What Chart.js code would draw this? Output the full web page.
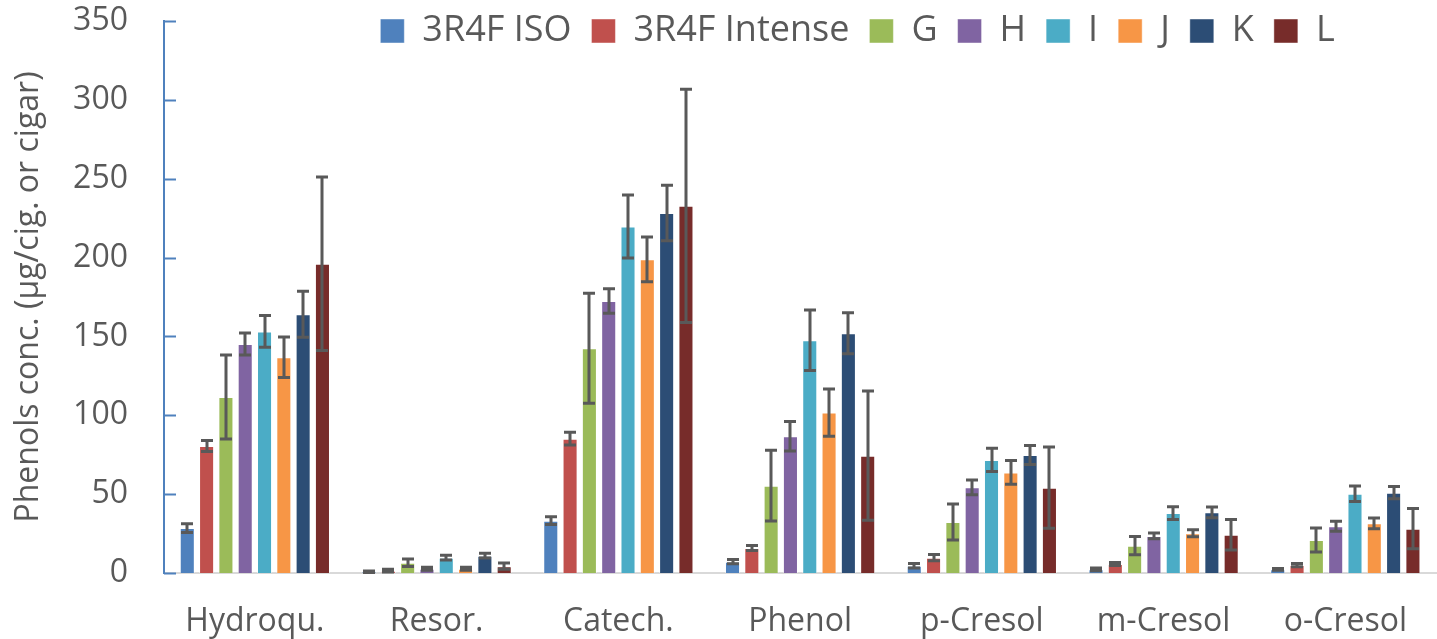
<!DOCTYPE html>
<html>
<head>
<meta charset="utf-8">
<script src="https://cdn.jsdelivr.net/npm/chart.js@4.4.1/dist/chart.umd.min.js"></script>
<style>
  html, body { margin: 0; padding: 0; background: #fff; }
  #wrap { width: 1437px; height: 639px; }
</style>
</head>
<body>
<div id="wrap"><canvas id="myChart" width="1437" height="639"></canvas></div>
<script>
// categories and series
const categories = ["Hydroqu.", "Resor.", "Catech.", "Phenol", "p-Cresol", "m-Cresol", "o-Cresol"];
const seriesNames = ["3R4F ISO", "3R4F Intense", "G", "H", "I", "J", "K", "L"];
const seriesColors = ["#4F81BD", "#C0504D", "#9BBB59", "#8064A2", "#4BACC6", "#F79646", "#2C4D75", "#772C2A"];

// values (µg/cig. or cigar) and error (±)
const iso        = [28.5, 0.8, 33.2, 7.2, 4.6, 2.3, 2.3];
const isoErr     = [2.8, 0.5, 2.4, 1.3, 1.5, 0.8, 0.5];
const intense    = [80.5, 1.5, 85.2, 15.9, 9.7, 5.7, 5.0];
const intenseErr = [3.5, 0.8, 4.0, 1.6, 2.0, 1.0, 1.0];
const g          = [111.6, 6.5, 142.5, 55.4, 32.3, 17.3, 20.9];
const gErr       = [26.7, 2.3, 34.8, 22.5, 11.4, 5.8, 7.6];
const h          = [145.2, 2.7, 172.5, 86.7, 54.3, 23.5, 29.6];
const hErr       = [7.0, 1.0, 7.8, 9.3, 4.7, 1.8, 3.2];
const iVals      = [153.2, 9.7, 219.7, 147.6, 71.7, 38.0, 50.3];
const iErr       = [10.0, 1.5, 20.0, 19.2, 7.4, 4.0, 4.9];
const j          = [136.8, 2.7, 198.9, 101.7, 63.8, 25.2, 31.5];
const jErr       = [12.9, 1.0, 14.2, 15.0, 7.5, 2.2, 3.4];
const k          = [164.0, 11.0, 228.2, 152.0, 74.8, 38.5, 50.9];
const kErr       = [14.6, 1.5, 17.6, 13.0, 6.0, 3.4, 3.9];
const l          = [196.1, 4.3, 232.8, 74.4, 54.1, 24.3, 28.1];
const lErr       = [55.0, 2.0, 74.0, 41.0, 25.8, 9.7, 12.8];

const allValues = [iso, intense, g, h, iVals, j, k, l];
const allErrors = [isoErr, intenseErr, gErr, hErr, iErr, jErr, kErr, lErr];

const yTicks = [0, 50, 100, 150, 200, 250, 300, 350];

const textColor = "#595959";
const fontFamily = "'Open Sans', sans-serif";

// error bars on top of every bar
const errorBars = {
  id: "errorBars",
  afterDatasetsDraw(chart) {
    const ctx = chart.ctx;
    const yScale = chart.scales.y;
    ctx.save();
    ctx.strokeStyle = "#595959";
    ctx.lineWidth = 3;
    chart.data.datasets.forEach((ds, di) => {
      const meta = chart.getDatasetMeta(di);
      meta.data.forEach((bar, idx) => {
        const v = ds.data[idx], e = ds.errors[idx];
        const top = yScale.getPixelForValue(v + e);
        const bot = yScale.getPixelForValue(Math.max(v - e, 0));
        const x = Math.round(bar.x);
        ctx.beginPath();
        ctx.moveTo(x, top); ctx.lineTo(x, bot);
        ctx.moveTo(x - 6, top); ctx.lineTo(x + 6, top);
        ctx.moveTo(x - 6, bot); ctx.lineTo(x + 6, bot);
        ctx.stroke();
      });
    });
    ctx.restore();
  }
};

// tick marks pointing into the plot, like the original
const innerTicks = {
  id: "innerTicks",
  afterDraw(chart) {
    const ctx = chart.ctx;
    const yScale = chart.scales.y;
    const left = chart.chartArea.left;
    ctx.save();
    ctx.strokeStyle = "#4F81BD";
    ctx.lineWidth = 2;
    yScale.ticks.forEach(t => {
      const y = Math.round(yScale.getPixelForValue(t.value)) + 0.5;
      ctx.beginPath();
      ctx.moveTo(left, y);
      ctx.lineTo(left + 12, y);
      ctx.stroke();
    });
    ctx.restore();
  }
};

// legend overlaps the plot in the original: take no layout space, then move it
const legendOverlay = {
  id: "legendOverlay",
  beforeInit(chart) {
    const origFit = chart.legend.fit;
    chart.legend.fit = function () {
      origFit.call(this);
      this.height = 0;
    };
  },
  afterLayout(chart) {
    const lg = chart.legend;
    lg.left += 139;
    lg.right += 139;
    lg.top -= 28;
    lg.bottom = lg.top + 100;
  }
};

new Chart(document.getElementById("myChart"), {
  type: "bar",
  data: {
    labels: categories,
    datasets: seriesNames.map((name, n) => ({
      label: name,
      data: allValues[n],
      errors: allErrors[n],
      backgroundColor: seriesColors[n],
      borderColor: "rgba(255,255,255,0.45)",
      borderWidth: 1,
      categoryPercentage: 0.85,
      barPercentage: 0.78
    }))
  },
  options: {
    responsive: false,
    animation: false,
    devicePixelRatio: 1,
    layout: { padding: { top: 21, right: 0, bottom: 0, left: 0 } },
    plugins: {
      legend: {
        position: "top",
        align: "center",
        labels: {
          boxWidth: 24,
          boxHeight: 24,
          padding: 20,
          color: textColor,
          font: { family: fontFamily, size: 36 }
        }
      },
      tooltip: { enabled: false }
    },
    scales: {
      x: {
        grid: { display: false, drawTicks: false },
        border: { display: true, color: "#D9D9D9", width: 2 },
        ticks: {
          padding: 30,
          color: textColor,
          font: { family: fontFamily, size: 32 }
        },
        afterFit(scale) { scale.height = 66; }
      },
      y: {
        min: 0,
        max: 350,
        afterBuildTicks(scale) { scale.ticks = yTicks.map(v => ({ value: v })); },
        grid: { display: false, drawTicks: false },
        border: { display: true, color: "#4F81BD", width: 2 },
        ticks: {
          padding: 36,
          color: textColor,
          font: { family: fontFamily, size: 32 }
        },
        title: {
          display: true,
          text: "Phenols conc. (µg/cig. or cigar)",
          color: textColor,
          padding: { top: 10, bottom: 0 },
          font: { family: fontFamily, size: 32 }
        },
        afterFit(scale) {
          scale.width = 164;
          scale.paddingTop = 19;
          scale.paddingBottom = 19;
        }
      }
    }
  },
  plugins: [errorBars, innerTicks, legendOverlay]
});
</script>
</body>
</html>
